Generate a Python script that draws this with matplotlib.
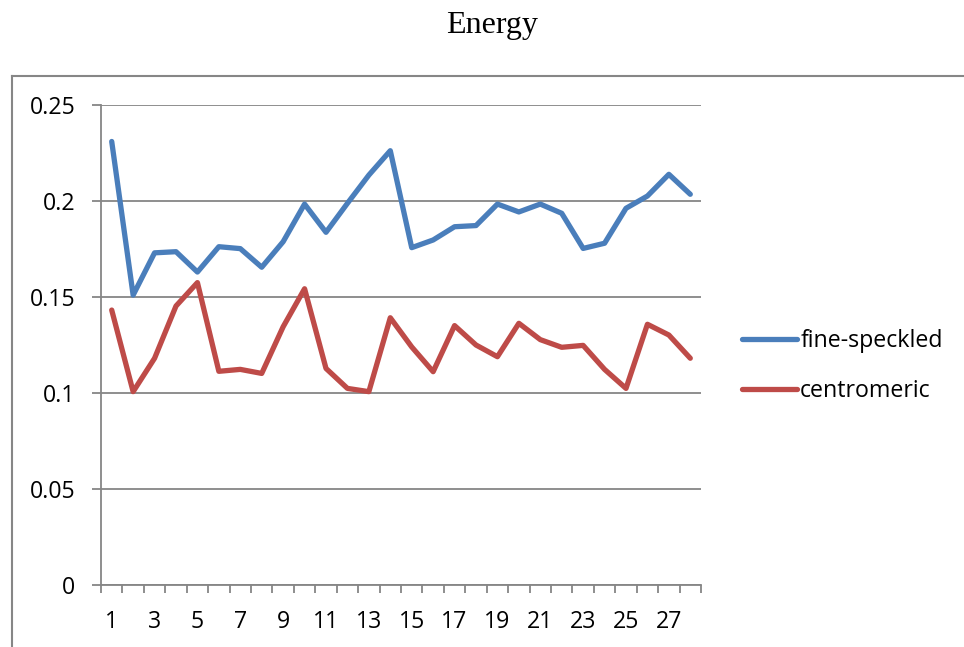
import matplotlib
matplotlib.use("Agg")
import matplotlib.pyplot as plt
from matplotlib.lines import Line2D

categories = list(range(1, 29))
fine_speckled = [0.231, 0.151, 0.173, 0.1736, 0.163, 0.1762, 0.1752, 0.1655, 0.1788, 0.1984,
                 0.1837, 0.1988, 0.2135, 0.2262, 0.1757, 0.1797, 0.1866, 0.1872, 0.1984, 0.1943,
                 0.1984, 0.1936, 0.1753, 0.178, 0.1962, 0.2026, 0.2139, 0.2035]
centromeric = [0.1432, 0.1007, 0.1181, 0.1453, 0.1575, 0.1113, 0.1123, 0.1102, 0.1345, 0.1543,
               0.1128, 0.1024, 0.1007, 0.1392, 0.124, 0.1111, 0.1351, 0.125, 0.1189, 0.1363,
               0.1278, 0.1238, 0.1248, 0.1123, 0.1024, 0.1358, 0.1302, 0.1181]
series_names = ["fine-speckled", "centromeric"]
series_colors = ["#4A7EBB", "#BE4B48"]
yticks = [0, 0.05, 0.1, 0.15, 0.2, 0.25]
ytick_labels = ["0", "0.05", "0.1", "0.15", "0.2", "0.25"]
title = "Energy"

W, H = 964, 647
fig = plt.figure(figsize=(W / 100, H / 100), dpi=100)
tick_font = "Open Sans"
fs = 16.7
gray = "#868686"

ax = fig.add_axes([101 / W, (H - 585) / H, 600 / W, 480 / H])
for vals, name, col in zip([fine_speckled, centromeric], series_names, series_colors):
    ax.plot(categories, vals, color=col, lw=3.8, label=name, solid_joinstyle="round",
            solid_capstyle="round", zorder=3)

ax.set_xlim(0.5, 28.5)
ax.set_ylim(0, 0.25)
ax.set_yticks(yticks)
ax.set_yticklabels(ytick_labels, fontfamily=tick_font, fontsize=fs)
ax.set_xticks([c for c in categories if c % 2 == 1])
ax.set_xticklabels([str(c) for c in categories if c % 2 == 1], fontfamily=tick_font, fontsize=fs)
ax.set_xticks([c + 0.5 for c in [0] + categories], minor=True)
ax.tick_params(axis="x", which="major", length=0, pad=18)
ax.tick_params(axis="x", which="minor", length=6, width=1.3, color=gray, direction="out")
ax.tick_params(axis="y", length=6.5, width=1.3, color=gray, pad=12)
ax.grid(axis="y", color=gray, lw=1.3, zorder=1)
ax.set_axisbelow(True)
for s in ["top", "right"]:
    ax.spines[s].set_visible(False)
for s in ["left", "bottom"]:
    ax.spines[s].set_color(gray)
    ax.spines[s].set_linewidth(1.3)

leg = ax.legend(loc="center left", bbox_to_anchor=(742 / W, (H - 366) / H),
                bbox_transform=fig.transFigure, frameon=False,
                prop={"family": tick_font, "size": fs}, handlelength=2.38,
                handletextpad=0.13, labelspacing=1.1, borderaxespad=0, borderpad=0)

fig.text(492.5 / W, 1 - 33 / H, title, fontfamily="Liberation Serif", fontsize=23,
         ha="center", va="baseline")

# outer chart border
fig.add_artist(Line2D([11.5 / W, 11.5 / W], [0, 1 - 76 / H], color=gray, lw=1.5,
                      transform=fig.transFigure))
fig.add_artist(Line2D([11.5 / W, 1], [1 - 76 / H, 1 - 76 / H], color=gray, lw=1.5,
                      transform=fig.transFigure))

fig.savefig("out.png", dpi=100)
